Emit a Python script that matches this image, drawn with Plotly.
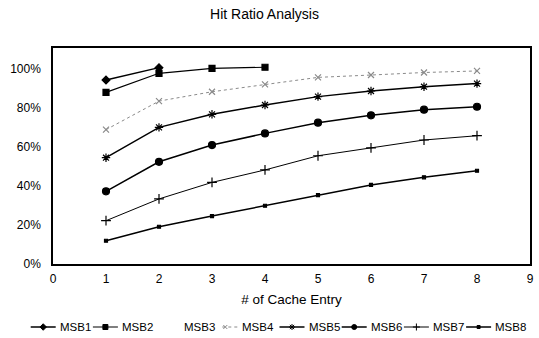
import plotly.graph_objects as go

# ---- data ----
entries = [1, 2, 3, 4, 5, 6, 7, 8]
series_names = ["MSB1", "MSB2", "MSB3", "MSB4", "MSB5", "MSB6", "MSB7", "MSB8"]
msb1 = [0.943, 1.007]
msb2 = [0.880, 0.978, 1.003, 1.009]
msb3 = []
msb4 = [0.688, 0.835, 0.883, 0.921, 0.957, 0.969, 0.982, 0.990]
msb5 = [0.544, 0.700, 0.767, 0.815, 0.858, 0.887, 0.909, 0.925]
msb6 = [0.371, 0.523, 0.609, 0.669, 0.724, 0.762, 0.791, 0.806]
msb7 = [0.220, 0.332, 0.417, 0.481, 0.554, 0.595, 0.635, 0.657]
msb8 = [0.117, 0.189, 0.244, 0.297, 0.352, 0.404, 0.443, 0.477]
values = [msb1, msb2, msb3, msb4, msb5, msb6, msb7, msb8]
y_ticks = [0, 0.2, 0.4, 0.6, 0.8, 1.0]
x_ticks = [0, 1, 2, 3, 4, 5, 6, 7, 8, 9]

# ---- styles ----
styles = {
    "MSB1": dict(color="black", width=1.5, dash="solid", symbol="diamond", size=6, lsize=5),
    "MSB2": dict(color="black", width=1.2, dash="solid", symbol="square", size=6, lsize=5),
    "MSB3": dict(color="rgba(0,0,0,0)", width=1, dash="solid", symbol="circle", size=1, lsize=1),
    "MSB4": dict(color="#8a8a8a", width=1, dash="dot", symbol="x-thin-open", size=6, lsize=4),
    "MSB5": dict(color="black", width=1.5, dash="solid", symbol="asterisk-open", size=7, lsize=5),
    "MSB6": dict(color="black", width=1.5, dash="solid", symbol="circle", size=7, lsize=5),
    "MSB7": dict(color="black", width=1, dash="solid", symbol="cross-thin-open", size=7, lsize=5),
    "MSB8": dict(color="black", width=1.5, dash="solid", symbol="square", size=3, lsize=3),
}

W, H = 539, 338
fig = go.Figure()

for name, vals in zip(series_names, values):
    s = styles[name]
    fig.add_trace(go.Scatter(
        x=entries[:len(vals)], y=vals, mode="lines+markers", name=name,
        line=dict(color=s["color"], width=s["width"], dash=s["dash"]),
        marker=dict(symbol=s["symbol"], size=s["size"], color=s["color"],
                    line=dict(color=s["color"], width=1.2)),
        showlegend=False, xaxis="x", yaxis="y",
    ))

# ---- custom compact legend on an overlay axis (pixel units) ----
leg_start, leg_pitch, leg_len, leg_y = 30.7, 62.2, 25, 327
annotations = []
for i, name in enumerate(series_names):
    s = styles[name]
    x0 = leg_start + leg_pitch * i
    if name == "MSB4":
        x0 += 5
        seg = [x0, x0 + 16]
    else:
        seg = [x0, x0 + leg_len]
    fig.add_trace(go.Scatter(
        x=seg, y=[leg_y, leg_y], mode="lines", xaxis="x2", yaxis="y2",
        line=dict(color=s["color"], width=s["width"], dash=s["dash"]),
        showlegend=False, hoverinfo="skip",
    ))
    mx = seg[0] + 3 if name == "MSB4" else (seg[0] + seg[1]) / 2
    fig.add_trace(go.Scatter(
        x=[mx], y=[leg_y], mode="markers", xaxis="x2", yaxis="y2",
        marker=dict(symbol=s["symbol"], size=s["lsize"], color=s["color"],
                    line=dict(color=s["color"], width=1)),
        showlegend=False, hoverinfo="skip",
    ))
    annotations.append(dict(
        x=seg[1] + 2, y=leg_y, xref="x2", yref="y2", text=name, showarrow=False,
        xanchor="left", yanchor="middle",
        font=dict(family="Liberation Sans, Arial", size=11.5, color="black"),
    ))

left, right, top, bottom = 53, 530, 48, 263.5
fig.update_layout(
    width=W, height=H,
    margin=dict(l=0, r=0, t=0, b=0),
    paper_bgcolor="white", plot_bgcolor="rgba(0,0,0,0)",
    font=dict(family="Liberation Sans, Arial", size=12, color="black"),
    title=dict(text="Hit Ratio Analysis", x=264.5 / W, y=1 - 14 / H,
               xanchor="center", yanchor="middle", xref="container", yref="container",
               font=dict(size=14)),
    xaxis=dict(domain=[left / W, right / W], range=[0, 9], tickvals=x_ticks,
               showline=True, mirror=True, linecolor="black", linewidth=1.5,
               showgrid=False, zeroline=False, ticks="", ticklabelstandoff=3,
               automargin=False,
               title=dict(text="# of Cache Entry", standoff=10, font=dict(size=13.5))),
    yaxis=dict(domain=[(H - bottom) / H, (H - top) / H], range=[0, 1.108],
               tickvals=y_ticks, tickformat=".0%",
               showline=True, mirror=True, linecolor="black", linewidth=1.5,
               showgrid=False, zeroline=False, ticks="", ticklabelstandoff=8,
               automargin=False),
    xaxis2=dict(domain=[0, 1], range=[0, W], visible=False, anchor="y2",
                fixedrange=True),
    yaxis2=dict(domain=[0, 0.1], range=[H, H - 0.1 * H], visible=False, anchor="x2",
                fixedrange=True),
    annotations=annotations,
)

fig.write_html(
    "out.html",
    config={"displayModeBar": False},
    post_script="document.body.style.margin='0px';document.body.style.overflow='hidden';",
)
